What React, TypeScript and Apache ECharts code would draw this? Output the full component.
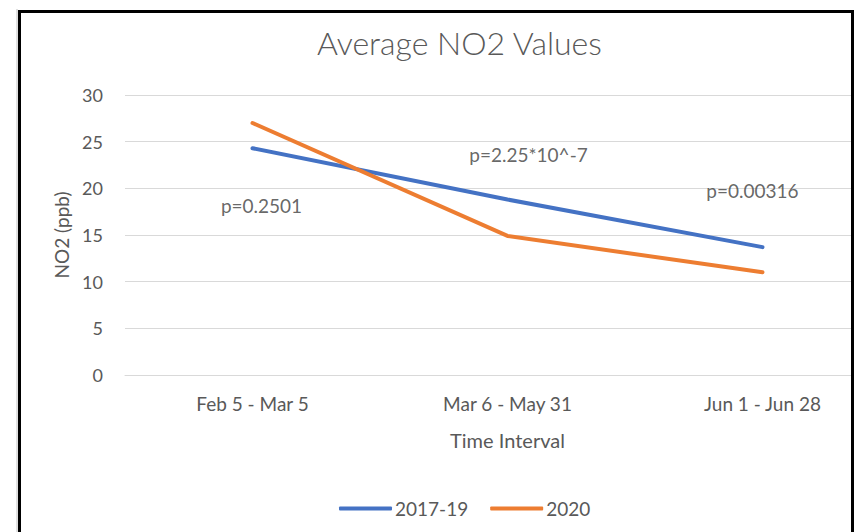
import React, { useEffect, useRef } from "react";
import * as echarts from "echarts";

const titleText = "Average NO2 Values";
const categories = ["Feb 5 - Mar 5", "Mar 6 - May 31", "Jun 1 - Jun 28"];
const seriesNames = ["2017-19", "2020"];
const values2017_19 = [24.3, 18.8, 13.7];
const values2020 = [27.0, 14.9, 11.0];
const pValueTexts = ["p=0.2501", "p=2.25*10^-7", "p=0.00316"];
const pValueLevels = [18.2, 23.6, 19.8];
const yMin = 0;
const yMax = 30;
const yStep = 5;
const xAxisTitle = "Time Interval";
const yAxisTitle = "NO2 (ppb)";

const FONT = "Lato";
const TEXT_COLOR = "#595959";

export default function App() {
  const ref = useRef<HTMLDivElement>(null);
  useEffect(() => {
    if (!ref.current) return;
    const chart = echarts.init(ref.current, null, { renderer: "svg" });
    const labelOffsets = [[9, 0], [21, 0], [-10, 0]];
    chart.setOption({
      animation: false,
      backgroundColor: "#ffffff",
      textStyle: { fontFamily: FONT },
      grid: { left: 125, right: 0, top: 95, bottom: 157, containLabel: false },
      legend: {
        data: seriesNames,
        left: 334,
        top: 494,
        icon: "roundRect",
        itemWidth: 53,
        itemHeight: 4,
        itemGap: 22,
        textStyle: { color: TEXT_COLOR, fontSize: 19, fontFamily: FONT, padding: [0, 0, 0, -2] },
      },
      xAxis: {
        type: "category",
        data: categories,
        boundaryGap: true,
        name: xAxisTitle,
        nameLocation: "middle",
        nameGap: 55,
        nameTextStyle: { color: TEXT_COLOR, fontSize: 20, fontFamily: FONT },
        axisLine: { show: true, lineStyle: { color: "#d9d9d9", width: 1 } },
        axisTick: { show: false },
        axisLabel: { color: TEXT_COLOR, fontSize: 19, margin: 19, fontFamily: FONT },
        splitLine: { show: false },
      },
      yAxis: {
        type: "value",
        min: yMin,
        max: yMax,
        interval: yStep,
        name: yAxisTitle,
        nameLocation: "middle",
        nameGap: 52,
        nameRotate: 90,
        nameTextStyle: { color: TEXT_COLOR, fontSize: 19, fontFamily: FONT },
        axisLine: { show: false },
        axisTick: { show: false },
        axisLabel: { color: TEXT_COLOR, fontSize: 18, margin: 22, fontFamily: FONT },
        splitLine: { show: true, lineStyle: { color: "#d9d9d9", width: 1 } },
      },
      series: [
        {
          name: seriesNames[0],
          type: "line",
          data: values2017_19,
          symbol: "none",
          lineStyle: { color: "#4472C4", width: 4, cap: "round" },
          itemStyle: { color: "#4472C4" },
          z: 3,
        },
        {
          name: seriesNames[1],
          type: "line",
          data: values2020,
          symbol: "none",
          lineStyle: { color: "#ED7D31", width: 4, cap: "round" },
          itemStyle: { color: "#ED7D31" },
          z: 4,
        },
        {
          name: "p-values",
          type: "scatter",
          symbolSize: 0,
          silent: true,
          data: pValueLevels.map((v, i) => ({
            value: [i, v],
            label: {
              show: true,
              position: "inside",
              offset: labelOffsets[i],
              formatter: pValueTexts[i],
              color: "#404040",
              fontSize: 19,
              fontFamily: FONT,
            },
          })),
          z: 5,
        },
      ],
      graphic: [
        {
          type: "text",
          left: 317,
          top: 26,
          style: {
            text: titleText,
            fill: TEXT_COLOR,
            fontSize: 32,
            fontFamily: FONT,
            fontWeight: 300,
          },
          z: 10,
        },
        {
          type: "line",
          shape: { x1: 17, y1: 9, x2: 17, y2: 540 },
          style: { stroke: "#c0c0c0", lineWidth: 1 },
          z: 10,
        },
        {
          type: "rect",
          shape: { x: 19.5, y: 11.5, width: 833, height: 540 },
          style: { fill: "none", stroke: "#000000", lineWidth: 3 },
          z: 10,
        },
      ],
    });
    return () => chart.dispose();
  }, []);
  return (
    <div style={{ position: "absolute", left: 0, top: 0, width: 854, height: 532, overflow: "hidden" }}>
      <div ref={ref} style={{ width: 890, height: 532 }} />
    </div>
  );
}
